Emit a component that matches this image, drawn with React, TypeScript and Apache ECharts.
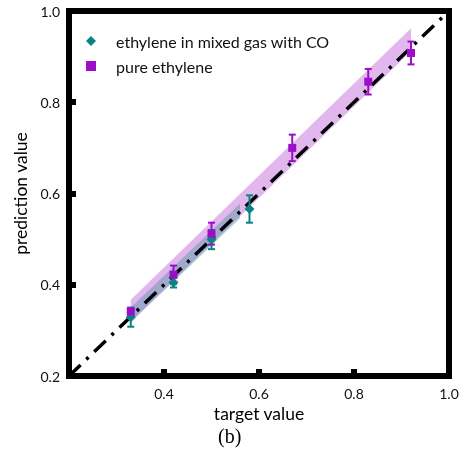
import React, { useEffect, useRef } from "react";
import * as echarts from "echarts";

// ---- data ----
const mixName = "ethylene in mixed gas with CO";
const pureName = "pure ethylene";

const mixX = [0.33, 0.42, 0.5, 0.58];
const mixY = [0.329, 0.405, 0.499, 0.566];
const mixErr = [0.021, 0.011, 0.021, 0.03];

const pureX = [0.33, 0.42, 0.5, 0.67, 0.83, 0.92];
const pureY = [0.341, 0.422, 0.512, 0.7, 0.845, 0.908];
const pureErr = [0.008, 0.02, 0.024, 0.029, 0.028, 0.025];

const mixBandX = [0.33, 0.56];
const mixBandLow = [0.318, 0.545];
const mixBandHigh = [0.35, 0.578];

const pureBandX = [0.33, 0.92];
const pureBandLow = [0.319, 0.912];
const pureBandHigh = [0.367, 0.962];

const diagX = [0.2, 1.0];
const diagY = [0.2, 1.0];

const axisMin = 0.2;
const axisMax = 1.0;
const tickStep = 0.2;

const TEAL = "#0b8383";
const PURPLE = "#9c0fc8";
const FONT = "Lato";

function bandSeries(name: string, xs: number[], lo: number[], hi: number[], color: string) {
  return {
    type: "custom",
    name,
    silent: true,
    data: xs.map((x, i) => [x, lo[i], hi[i]]),
    renderItem: (params: any, api: any) => {
      const i = params.dataIndex;
      if (i === 0) return null;
      const p0l = api.coord([xs[i - 1], lo[i - 1]]);
      const p0h = api.coord([xs[i - 1], hi[i - 1]]);
      const p1l = api.coord([xs[i], lo[i]]);
      const p1h = api.coord([xs[i], hi[i]]);
      return {
        type: "polygon",
        shape: { points: [p0l, p1l, p1h, p0h] },
        style: { fill: color, opacity: 0.3 },
      };
    },
    z: 1,
  };
}

function errSeries(name: string, xs: number[], ys: number[], es: number[], color: string) {
  return {
    type: "custom",
    name,
    silent: true,
    data: xs.map((x, i) => [x, ys[i], es[i]]),
    renderItem: (params: any, api: any) => {
      const x = api.value(0);
      const y = api.value(1);
      const e = api.value(2);
      const top = api.coord([x, y + e]);
      const bot = api.coord([x, y - e]);
      const hw = 3.5;
      const st = { stroke: color, lineWidth: 2 };
      return {
        type: "group",
        children: [
          { type: "line", shape: { x1: top[0], y1: top[1], x2: bot[0], y2: bot[1] }, style: st },
          { type: "line", shape: { x1: top[0] - hw, y1: top[1], x2: top[0] + hw, y2: top[1] }, style: st },
          { type: "line", shape: { x1: bot[0] - hw, y1: bot[1], x2: bot[0] + hw, y2: bot[1] }, style: st },
        ],
      };
    },
    z: 4,
  };
}

export default function App() {
  const ref = useRef<HTMLDivElement>(null);
  useEffect(() => {
    if (!ref.current) return;
    const chart = echarts.init(ref.current, null, { renderer: "svg" });
    chart.setOption({
      animation: false,
      grid: { left: 69, top: 11, right: 17, bottom: 76, show: true, borderColor: "#000", borderWidth: 6, containLabel: false },
      legend: {
        orient: "vertical",
        left: 86,
        top: 32,
        padding: 0,
        itemWidth: 10,
        itemHeight: 10,
        itemGap: 7,
        data: [
          { name: mixName, itemStyle: { opacity: 1 } },
          { name: pureName, itemStyle: { opacity: 1 } },
        ],
        textStyle: { fontFamily: FONT, fontSize: 16, color: "#111", lineHeight: 18, padding: [0, 0, 0, 15] },
      },
      xAxis: {
        type: "value",
        min: axisMin,
        max: axisMax,
        interval: tickStep,
        name: "target value",
        nameLocation: "middle",
        nameGap: 23,
        nameTextStyle: { fontFamily: FONT, fontSize: 17.5, color: "#000" },
        axisLine: { show: true, lineStyle: { color: "#000", width: 6 } },
        axisTick: { show: true, inside: true, length: 7, lineStyle: { color: "#000", width: 6 } },
        axisLabel: {
          fontFamily: FONT,
          fontSize: 14,
          color: "#111",
          margin: 10,
          formatter: (v: number) => (Math.abs(v - axisMin) < 1e-9 ? "" : v.toFixed(1)),
        },
        splitLine: { show: false },
      },
      yAxis: {
        type: "value",
        min: axisMin,
        max: axisMax,
        interval: tickStep,
        name: "prediction value",
        nameLocation: "middle",
        nameGap: 33,
        nameTextStyle: { fontFamily: FONT, fontSize: 17.5, color: "#000" },
        axisLine: { show: true, lineStyle: { color: "#000", width: 6 } },
        axisTick: { show: true, inside: true, length: 7, lineStyle: { color: "#000", width: 6 } },
        axisLabel: {
          fontFamily: FONT,
          fontSize: 14,
          color: "#111",
          margin: 9,
          formatter: (v: number) => v.toFixed(1),
        },
        splitLine: { show: false },
      },
      graphic: [
        {
          type: "text",
          left: 233 - 15,
          top: 426,
          style: { text: "(b)", font: '20px "Liberation Serif"', fill: "#000" },
        },
      ],
      series: [
        bandSeries("pureBand", pureBandX, pureBandLow, pureBandHigh, PURPLE),
        bandSeries("mixBand", mixBandX, mixBandLow, mixBandHigh, TEAL),
        {
          type: "line",
          name: "y=x",
          data: diagX.map((x, i) => [x, diagY[i]]),
          symbol: "none",
          silent: true,
          lineStyle: { color: "#000", width: 3.5, type: [16, 8, 3, 8] },
          z: 3,
        },
        errSeries("mixErr", mixX, mixY, mixErr, TEAL),
        {
          type: "scatter",
          name: mixName,
          data: mixX.map((x, i) => [x, mixY[i]]),
          symbol: "diamond",
          symbolSize: 10,
          itemStyle: { color: TEAL, opacity: 1 },
          z: 5,
        },
        errSeries("pureErr", pureX, pureY, pureErr, PURPLE),
        {
          type: "scatter",
          name: pureName,
          data: pureX.map((x, i) => [x, pureY[i]]),
          symbol: "rect",
          symbolSize: 8,
          itemStyle: { color: PURPLE, opacity: 1 },
          z: 6,
        },
      ],
    });
    return () => chart.dispose();
  }, []);
  return <div ref={ref} style={{ position: "fixed", left: 0, top: 0, width: 466, height: 452 }} />;
}
